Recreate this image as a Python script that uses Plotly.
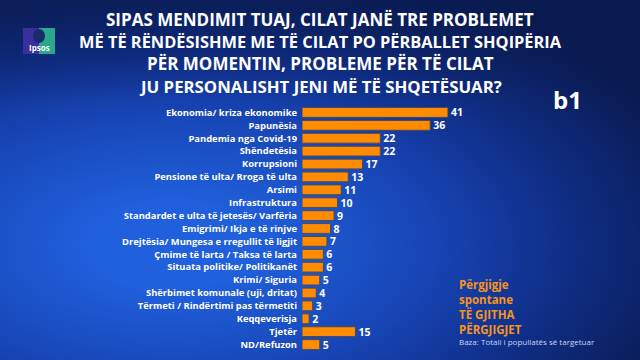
import numpy as np
import plotly.graph_objects as go

categories = [
    "Ekonomia/ kriza ekonomike",
    "Papunësia",
    "Pandemia nga Covid-19",
    "Shëndetësia",
    "Korrupsioni",
    "Pensione të ulta/ Rroga të ulta",
    "Arsimi",
    "Infrastruktura",
    "Standardet e ulta të jetesës/ Varfëria",
    "Emigrimi/ Ikja e të rinjve",
    "Drejtësia/ Mungesa e rregullit të ligjit",
    "Çmime të larta / Taksa të larta",
    "Situata politike/ Politikanët",
    "Krimi/ Siguria",
    "Shërbimet komunale (uji, dritat)",
    "Tërmeti / Rindërtimi pas tërmetiti",
    "Keqqeverisja",
    "Tjetër",
    "ND/Refuzon",
]
values = [41, 36, 22, 22, 17, 13, 11, 10, 9, 8, 7, 6, 6, 5, 4, 3, 2, 15, 5]

title_lines = [
    "SIPAS MENDIMIT TUAJ, CILAT JANË TRE PROBLEMET",
    "MË TË RËNDËSISHME ME TË CILAT PO PËRBALLET SHQIPËRIA",
    "PËR MOMENTIN, PROBLEME PËR TË CILAT",
    "JU PERSONALISHT JENI MË TË SHQETËSUAR?",
]
title_sizes = [17, 16.4, 17, 16.8]

W, H = 640, 360
# plot area of the bar chart, in pixels
PX0, PX1, PY0, PY1 = 302, 480, 106, 351


def pp(x, y):
    return x / W, 1 - y / H


# ---- background glow (pure styling) ----
gx = np.linspace(0, W, 33)
gy = np.linspace(0, H, 19)
GX, GY = np.meshgrid(gx, gy)
d = np.sqrt(((GX - 170) / 540) ** 2 + ((GY - 245) / 280) ** 2)
glow = np.clip(1 - d, 0, 1) * np.clip(0.35 + GY / 160, 0, 1)

fig = go.Figure()
fig.add_trace(go.Heatmap(
    x=gx, y=gy, z=glow, zsmooth="best", showscale=False, hoverinfo="skip",
    colorscale=[[0, "#0a1b52"], [0.3, "#0f2d84"], [0.6, "#1744b4"], [1, "#2060dc"]],
    zmin=0, zmax=0.85, xaxis="x", yaxis="y",
))

fig.add_trace(go.Bar(
    y=categories,
    x=values,
    orientation="h",
    marker=dict(color="#ff8c00", line=dict(color="#4a4a5a", width=1)),
    text=[str(v) for v in values],
    textposition="outside",
    constraintext="none",
    textfont=dict(color="white", size=10.5, family="Open Sans", weight="bold"),
    cliponaxis=False,
    hoverinfo="skip",
    xaxis="x2", yaxis="y2",
))

fig.update_layout(
    width=W, height=H,
    margin=dict(l=0, r=0, t=0, b=0),
    paper_bgcolor="#0a1c55",
    plot_bgcolor="rgba(0,0,0,0)",
    showlegend=False,
    bargap=0.24,
    font=dict(family="Open Sans", color="white"),
    xaxis=dict(range=[0, W], domain=[0, 1], visible=False, fixedrange=True),
    yaxis=dict(range=[H, 0], domain=[0, 1], visible=False, fixedrange=True),
    xaxis2=dict(range=[0, 50], domain=[PX0 / W, PX1 / W], anchor="y2",
                visible=False, showgrid=False, zeroline=False, fixedrange=True),
    yaxis2=dict(
        domain=[1 - PY1 / H, 1 - PY0 / H], anchor="x2",
        autorange="reversed", automargin=False, fixedrange=True,
        tickmode="linear", dtick=1, tick0=0,
        showgrid=False, zeroline=False, showline=False, ticks="",
        tickfont=dict(color="white", size=9.4, family="Open Sans", weight="bold"),
        ticklabelstandoff=4,
    ),
)

# title
ys = [19, 41, 63, 86]
for line, yv, fs in zip(title_lines, ys, title_sizes):
    xx, yy = pp(320, yv)
    fig.add_annotation(text=line, x=xx, y=yy, xref="paper", yref="paper",
                       xanchor="center", yanchor="middle", showarrow=False,
                       font=dict(size=fs, color="white", family="Open Sans", weight="bold"))

# b1 logo
xx, yy = pp(567, 99)
fig.add_annotation(text="b1", x=xx, y=yy, xref="paper", yref="paper", showarrow=False,
                   xanchor="center", yanchor="middle",
                   font=dict(size=24, color="white", family="Open Sans", weight="bold"))

# Ipsos logo
x0, y0 = pp(23, 28)
x1, y1 = pp(39, 54)
fig.add_shape(type="rect", x0=x0, y0=y0, x1=x1, y1=y1, xref="paper", yref="paper",
              fillcolor="#3a2f9c", line=dict(width=0), layer="above")
x0, y0 = pp(39, 28)
x1, y1 = pp(55, 54)
fig.add_shape(type="rect", x0=x0, y0=y0, x1=x1, y1=y1, xref="paper", yref="paper",
              fillcolor="#2aa88c", line=dict(width=0), layer="above")
x0, y0 = pp(33, 29)
x1, y1 = pp(45, 43)
fig.add_shape(type="circle", x0=x0, y0=y0, x1=x1, y1=y1, xref="paper", yref="paper",
              fillcolor="#1b2a6e", line=dict(width=0), layer="above")
xx, yy = pp(39, 48)
fig.add_annotation(text="Ipsos", x=xx, y=yy, xref="paper", yref="paper", showarrow=False,
                   xanchor="center", yanchor="middle",
                   font=dict(size=8, color="white", family="Open Sans", weight="bold"))

# right side notes
xx, yy = pp(457, 275)
fig.add_annotation(text="Përgjigje<br>spontane<br>TË GJITHA<br>PËRGJIGJET",
                   x=xx, y=yy, xref="paper", yref="paper", showarrow=False,
                   xanchor="left", yanchor="top", align="left",
                   font=dict(size=11.5, color="#f7941d", family="Open Sans", weight="bold"))
xx, yy = pp(457, 341)
fig.add_annotation(text="Baza: Totali i popullatës së targetuar", x=xx, y=yy,
                   xref="paper", yref="paper", showarrow=False,
                   xanchor="left", yanchor="middle",
                   font=dict(size=8, color="#c8d6f5", family="Open Sans"))

fig.write_html("out.html", config={"displayModeBar": False},
               post_script="document.body.style.margin='0';document.body.style.background='#0a1c55';")
